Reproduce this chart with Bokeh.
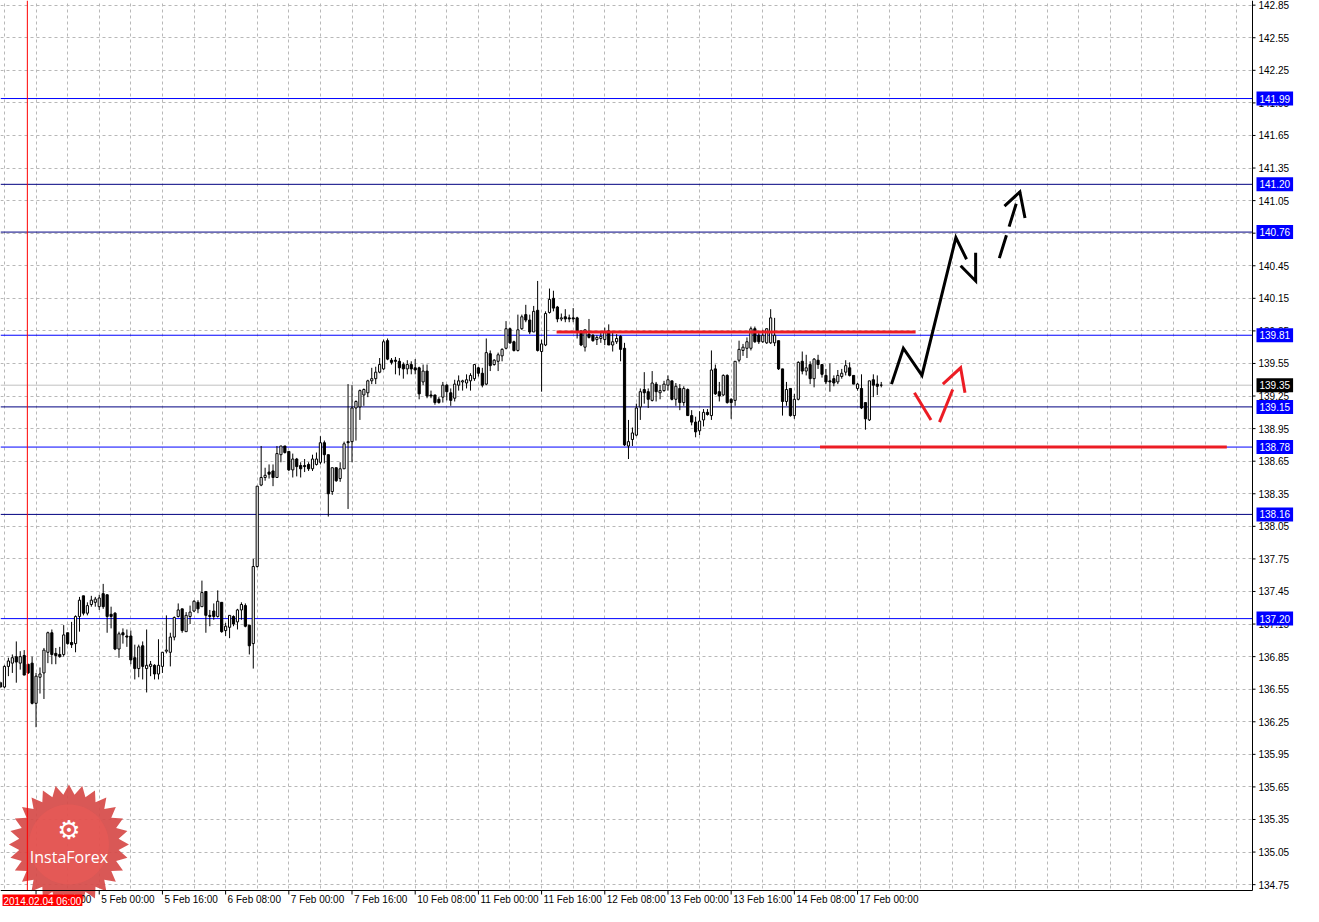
import numpy as np
from bokeh.plotting import figure
from bokeh.models import Range1d, FixedTicker
from bokeh.embed import file_html
from bokeh.resources import INLINE
from bokeh.core.properties import value

# ---------------- data (H1 bars, first bar = 3 Feb 23:00) ----------------
opens = [136.61,136.57,136.76,136.79,136.85,136.79,136.86,136.78,136.79,136.42,
         136.66,136.70,136.89,137.07,136.88,136.87,136.87,137.07,136.98,136.97,
         137.22,137.41,137.25,137.33,137.35,137.31,137.43,137.42,137.24,137.25,
         136.92,137.07,137.04,137.04,136.84,136.74,136.95,136.74,136.76,136.77,
         136.69,136.76,136.90,136.89,137.03,137.22,137.29,137.08,137.22,137.27,
         137.35,137.31,137.45,137.23,137.27,137.22,137.35,137.09,137.12,137.22,
         137.17,137.28,137.32,137.14,136.97,137.68,138.43,138.50,138.55,138.56,
         138.50,138.71,138.79,138.74,138.57,138.67,138.61,138.61,138.62,138.58,
         138.62,138.64,138.82,138.71,138.37,138.59,138.49,138.58,138.83,138.83,
         139.14,139.15,139.26,139.28,139.39,139.41,139.47,139.50,139.76,139.58,
         139.58,139.57,139.54,139.50,139.54,139.51,139.51,139.38,139.48,139.26,
         139.26,139.22,139.24,139.35,139.28,139.23,139.35,139.38,139.37,139.39,
         139.41,139.51,139.46,139.36,139.64,139.54,139.57,139.62,139.69,139.87,
         139.75,139.67,139.87,140.00,139.95,139.84,140.04,139.66,139.72,140.02,
         140.15,140.07,139.96,139.98,139.97,139.97,139.97,139.85,139.70,139.82,
         139.81,139.77,139.78,139.77,139.85,139.72,139.75,139.80,139.69,138.79,
         138.85,138.89,139.15,139.31,139.29,139.21,139.36,139.28,139.30,139.35,
         139.39,139.22,139.32,139.19,139.31,139.07,139.01,138.93,139.03,139.10,
         139.07,139.50,139.29,139.26,139.44,139.22,139.21,139.58,139.67,139.69,
         139.69,139.87,139.81,139.75,139.74,139.74,139.74,139.76,139.50,139.20,
         139.32,139.07,139.22,139.57,139.48,139.54,139.41,139.58,139.54,139.44,
         139.39,139.41,139.38,139.43,139.47,139.51,139.44,139.32,139.32,139.19,
         139.03,139.40,139.36,139.35]
highs = [136.62,136.77,136.84,136.87,136.99,136.90,136.91,136.78,136.85,136.70,
         136.75,136.93,137.08,137.10,136.93,136.94,137.14,137.07,137.17,137.23,
         137.40,137.41,137.35,137.41,137.40,137.42,137.52,137.42,137.31,137.26,
         137.08,137.11,137.10,137.09,136.96,136.96,136.99,137.10,136.81,136.78,
         137.01,136.89,137.23,137.07,137.22,137.34,137.29,137.26,137.32,137.37,
         137.37,137.55,137.45,137.28,137.34,137.46,137.35,137.16,137.23,137.23,
         137.29,137.35,137.34,137.14,137.75,138.42,138.79,138.59,138.62,138.62,
         138.79,138.79,138.79,138.74,138.72,138.68,138.64,138.67,138.64,138.71,
         138.73,138.88,138.84,138.71,138.59,138.59,138.64,138.83,139.36,139.35,
         139.21,139.31,139.32,139.40,139.51,139.52,139.60,139.77,139.78,139.60,
         139.61,139.60,139.56,139.58,139.57,139.59,139.52,139.54,139.54,139.30,
         139.26,139.24,139.38,139.36,139.32,139.40,139.44,139.40,139.45,139.46,
         139.54,139.52,139.51,139.78,139.67,139.59,139.65,139.69,139.94,139.88,
         139.76,140.00,140.00,140.09,140.00,140.08,140.31,139.77,140.03,140.24,
         140.22,140.08,140.01,140.05,140.00,140.06,139.98,139.85,139.86,139.96,
         139.82,139.81,139.84,139.88,139.91,139.85,139.82,139.81,139.74,139.03,
         138.96,139.18,139.32,139.47,139.32,139.48,139.38,139.35,139.39,139.44,
         139.39,139.37,139.36,139.34,139.32,139.12,139.06,139.11,139.13,139.13,
         139.67,139.54,139.38,139.45,139.45,139.23,139.57,139.76,139.73,139.79,
         139.89,139.89,139.83,139.86,139.87,140.05,139.97,139.76,139.50,139.38,
         139.32,139.27,139.57,139.66,139.63,139.57,139.60,139.63,139.54,139.50,
         139.55,139.44,139.49,139.50,139.58,139.56,139.44,139.37,139.45,139.19,
         139.39,139.45,139.44,139.38]
lows = [136.56,136.56,136.67,136.70,136.61,136.73,136.68,136.69,136.41,136.20,
        136.51,136.46,136.79,136.78,136.78,136.84,136.85,136.96,136.93,136.89,
        137.08,137.23,137.23,137.31,137.31,137.28,137.29,137.07,137.11,136.91,
        136.84,136.97,136.94,136.78,136.64,136.66,136.64,136.52,136.67,136.64,
        136.64,136.70,136.88,136.76,137.00,137.21,137.07,137.08,137.15,137.26,
        137.25,137.31,137.07,137.13,137.19,137.21,137.07,137.04,137.02,137.13,
        137.10,137.19,137.12,136.87,136.74,137.67,138.42,138.47,138.49,138.42,
        138.50,138.64,138.72,138.56,138.50,138.51,138.50,138.55,138.56,138.56,
        138.61,138.62,138.63,138.14,138.34,138.46,138.46,138.58,138.21,138.64,
        138.84,139.03,139.16,139.24,139.36,139.36,139.46,139.49,139.58,139.54,
        139.45,139.44,139.41,139.45,139.45,139.45,139.22,139.35,139.23,139.23,
        139.17,139.18,139.19,139.21,139.16,139.20,139.30,139.30,139.32,139.30,
        139.39,139.43,139.33,139.35,139.48,139.53,139.48,139.57,139.68,139.73,
        139.66,139.66,139.86,139.93,139.82,139.84,139.66,139.29,139.71,140.01,
        140.03,139.93,139.94,139.93,139.93,139.93,139.78,139.71,139.66,139.78,
        139.75,139.72,139.74,139.72,139.72,139.66,139.73,139.57,138.79,138.67,
        138.79,138.88,139.03,139.18,139.14,139.20,139.20,139.22,139.29,139.30,
        139.21,139.16,139.12,139.16,139.07,138.98,138.87,138.89,138.97,139.07,
        139.03,139.26,139.20,139.25,139.18,139.04,139.16,139.56,139.62,139.60,
        139.67,139.74,139.73,139.74,139.73,139.73,139.71,139.49,139.07,139.16,
        139.06,139.04,139.21,139.45,139.44,139.36,139.33,139.50,139.42,139.36,
        139.29,139.34,139.36,139.41,139.44,139.43,139.36,139.30,139.13,138.94,
        139.02,139.24,139.26,139.33]
closes = [136.57,136.76,136.81,136.84,136.80,136.85,136.68,136.70,136.42,136.67,
          136.69,136.91,137.07,136.87,136.86,136.85,137.05,136.97,136.96,137.22,
          137.37,137.25,137.32,137.37,137.38,137.39,137.31,137.22,137.22,136.92,
          137.06,137.05,137.03,136.82,136.74,136.94,136.76,136.77,136.78,136.69,
          136.77,136.89,136.91,137.03,137.21,137.28,137.09,137.23,137.26,137.36,
          137.29,137.44,137.23,137.22,137.22,137.36,137.08,137.13,137.23,137.15,
          137.28,137.33,137.13,136.95,137.68,138.42,138.50,138.52,138.53,138.50,
          138.72,138.79,138.73,138.57,138.67,138.60,138.58,138.60,138.58,138.67,
          138.67,138.82,138.71,138.35,138.59,138.47,138.58,138.81,138.82,139.14,
          139.20,139.30,139.31,139.39,139.41,139.47,139.54,139.75,139.59,139.56,
          139.57,139.51,139.50,139.54,139.50,139.49,139.27,139.48,139.25,139.25,
          139.19,139.19,139.35,139.29,139.21,139.36,139.39,139.39,139.40,139.44,
          139.54,139.46,139.35,139.65,139.53,139.58,139.63,139.68,139.87,139.74,
          139.67,139.86,139.98,139.95,139.84,140.03,139.67,139.73,140.01,140.14,
          140.06,139.96,139.97,139.96,139.96,139.96,139.85,139.72,139.86,139.79,
          139.76,139.79,139.80,139.84,139.72,139.75,139.78,139.68,138.80,138.83,
          138.91,139.14,139.29,139.28,139.22,139.37,139.29,139.30,139.36,139.40,
          139.22,139.34,139.19,139.32,139.07,139.01,138.92,139.02,139.10,139.08,
          139.49,139.27,139.25,139.44,139.19,139.19,139.57,139.68,139.70,139.75,
          139.87,139.75,139.75,139.81,139.87,139.97,139.81,139.50,139.20,139.31,
          139.07,139.22,139.56,139.48,139.51,139.41,139.59,139.54,139.45,139.38,
          139.38,139.37,139.44,139.46,139.53,139.44,139.36,139.36,139.14,139.04,
          139.39,139.35,139.34,139.35]

time_labels = ["4 Feb 08:00", "5 Feb 00:00", "5 Feb 16:00", "6 Feb 08:00", "7 Feb 00:00",
               "7 Feb 16:00", "10 Feb 08:00", "11 Feb 00:00", "11 Feb 16:00", "12 Feb 08:00",
               "13 Feb 00:00", "13 Feb 16:00", "14 Feb 08:00", "17 Feb 00:00"]
price_ticks = [round(134.75 + 0.30 * i, 2) for i in range(28)]
levels_blue = [141.99, 139.81, 138.78, 137.20]
levels_navy = [141.20, 140.76, 139.15, 138.16]
bid_price = 139.35
marker_bar = 6.8
marker_text = "2014.02.04 06:00"

# forecast sketch (bar index, price)
red_lvl_x0 = [140.8, 207.5]
red_lvl_x1 = [231.7, 310.5]
red_lvl_p = [139.84, 138.78]
black_path_bar = [225.6, 228.6, 233.3, 241.9, 244.6]
black_path_price = [139.36, 139.69, 139.44, 140.71, 140.51]
black_head_bar = [243.1, 246.9, 246.9]
black_head_price = [140.45, 140.31, 140.57]
dash_path_bar = [252.9, 258.1]
dash_path_price = [140.52, 141.13]
dash_head_bar = [254.2, 258.1, 259.4]
dash_head_price = [141.00, 141.13, 140.89]
red_leg_bar = [[231.4, 235.6], [237.75, 241.1]]
red_leg_price = [[139.28, 139.03], [139.01, 139.31]]
red_head_bar = [238.6, 243.1, 244.2]
red_head_price = [139.36, 139.51, 139.28]

# ---------------- geometry ----------------
W, H = 1303, 906
SCALE_W, TIME_H = 51, 16           # right price scale / bottom time scale (px)
CW, CH = W - SCALE_W, H - TIME_H   # chart area (px)
N_VIEW = 317                       # bars across the chart area
P_LO, P_HI = 134.696, 142.893      # price range of the chart area
px_x = CW / N_VIEW
px_y = CH / (P_HI - P_LO)
X_END = W / px_x
Y_LO = P_HI - H / px_y

p = figure(width=W, height=H, output_backend="svg", toolbar_location=None,
           x_range=Range1d(0, X_END), y_range=Range1d(Y_LO, P_HI),
           x_axis_location=None, y_axis_location=None,
           min_border=0, min_border_left=0, min_border_right=0,
           min_border_top=0, min_border_bottom=0,
           background_fill_color="white", border_fill_color="white",
           outline_line_color=None)

FONT = "Liberation Sans"
xt = [9 + 16 * i for i in range(len(time_labels))]

# grid
p.xgrid.ticker = FixedTicker(ticks=[1 + 8 * i for i in range(40)])
p.ygrid.ticker = FixedTicker(ticks=price_ticks)
for g in (p.xgrid, p.ygrid):
    g.grid_line_color = "#b8b8b8"
    g.grid_line_dash = "3 3"
    g.grid_line_width = 1

# blank scale areas (grid must stop at the chart edge)
p.quad(left=[N_VIEW, 0], right=[X_END, X_END], bottom=[Y_LO, Y_LO], top=[P_HI, P_LO],
       fill_color="white", line_color=None)

# ---------------- logo ----------------
cx, cy = 69.3 / 4.0, 135.12
n_pts = 28
ang = np.linspace(0, 2 * np.pi, 2 * n_pts, endpoint=False) + np.pi / 2
rad = np.where(np.arange(2 * n_pts) % 2 == 0, 60.0, 50.0)
p.patch(cx + rad * np.cos(ang) / px_x, cy + rad * np.sin(ang) / px_y,
        fill_color="#d64b49", fill_alpha=0.93, line_color=None)
ang2 = np.linspace(0, 2 * np.pi, 60)
p.patch(cx + 40 * np.cos(ang2) / px_x, cy + 40 * np.sin(ang2) / px_y,
        fill_color="#f25a56", fill_alpha=0.45, line_color=None)
p.text(x=[cx], y=[cy + 14 / px_y], text=["\u2699"], text_font=value("DejaVu Sans"),
       text_font_size="26px", text_color="white", text_align="center", text_baseline="middle")
p.text(x=[cx], y=[cy - 13 / px_y], text=["InstaForex"], text_font=value("Open Sans"),
       text_font_size="16px", text_color="white", text_align="center", text_baseline="middle")

# ---------------- level lines (under candles) ----------------
p.segment(x0=0, y0=bid_price, x1=N_VIEW, y1=bid_price, line_color="#c0c0c0", line_width=1)
p.segment(x0=0, y0=levels_blue, x1=N_VIEW, y1=levels_blue, line_color="#0000ff", line_width=1)
p.segment(x0=0, y0=levels_navy, x1=N_VIEW, y1=levels_navy, line_color="#000080", line_width=1)

# ---------------- candles ----------------
o = np.array(opens); h = np.array(highs); l = np.array(lows); c = np.array(closes)
k = np.arange(len(o))
up = c >= o
dn = ~up
p.segment(x0=k, y0=l, x1=k, y1=h, line_color="black", line_width=1)
p.vbar(x=k[up], width=0.55, top=c[up], bottom=o[up], fill_color="white", line_color="black", line_width=1)
p.vbar(x=k[dn], width=0.55, top=o[dn], bottom=c[dn], fill_color="black", line_color="black", line_width=1)

# vertical marker line
p.segment(x0=marker_bar, y0=P_LO, x1=marker_bar, y1=P_HI, line_color="#ff0000", line_width=1)

# ---------------- sketch ----------------
RED = "#ec1c24"
p.segment(x0=red_lvl_x0, y0=red_lvl_p, x1=red_lvl_x1, y1=red_lvl_p, line_color=RED, line_width=3)
p.line(black_path_bar, black_path_price, line_color="black", line_width=3, line_join="miter")
p.line(black_head_bar, black_head_price, line_color="black", line_width=3, line_join="miter")
p.line(dash_path_bar, dash_path_price, line_color="black", line_width=3, line_dash="24 9")
p.line(dash_head_bar, dash_head_price, line_color="black", line_width=3, line_join="miter")
p.multi_line(red_leg_bar, red_leg_price, line_color=RED, line_width=3)
p.line(red_head_bar, red_head_price, line_color=RED, line_width=3, line_join="miter")

# ---------------- scales ----------------
# axis lines
p.segment(x0=[N_VIEW, 0], y0=[P_LO, P_LO], x1=[N_VIEW, N_VIEW], y1=[P_HI, P_LO],
          line_color="black", line_width=1)
# price ticks + labels
p.segment(x0=N_VIEW, y0=price_ticks, x1=N_VIEW + 3 / px_x, y1=price_ticks,
          line_color="black", line_width=1)
p.text(x=[N_VIEW + 6 / px_x] * len(price_ticks), y=price_ticks,
       text=[f"{t:.2f}" for t in price_ticks], text_font=value(FONT), text_font_size="10px",
       text_color="black", text_align="left", text_baseline="middle")
# level price boxes
box_vals = levels_blue + levels_navy
p.text(x=[N_VIEW + 4 / px_x] * len(box_vals), y=box_vals,
       text=[f"{v:.2f}" for v in box_vals], text_font=value(FONT), text_font_size="10px",
       text_color="white", text_align="left", text_baseline="middle",
       background_fill_color="#0000ff", padding=3)
p.text(x=[N_VIEW + 4 / px_x], y=[bid_price], text=[f"{bid_price:.2f}"],
       text_font=value(FONT), text_font_size="10px", text_color="white",
       text_align="left", text_baseline="middle", background_fill_color="#000000", padding=3)

# time ticks + labels
p.segment(x0=xt, y0=P_LO, x1=xt, y1=P_LO - 4 / px_y, line_color="black", line_width=1)
p.text(x=[t + 2 / px_x for t in xt], y=[P_LO - 3 / px_y] * len(xt), text=time_labels,
       text_font=value(FONT), text_font_size="10px", text_color="black",
       text_align="left", text_baseline="top")
p.text(x=[2 / px_x], y=[P_LO - 4 / px_y], text=[marker_text], text_font=value(FONT),
       text_font_size="10px", text_color="white", text_align="left", text_baseline="top",
       background_fill_color="#ff0000", padding=1)

open("out.html", "w").write(file_html(p, INLINE))
